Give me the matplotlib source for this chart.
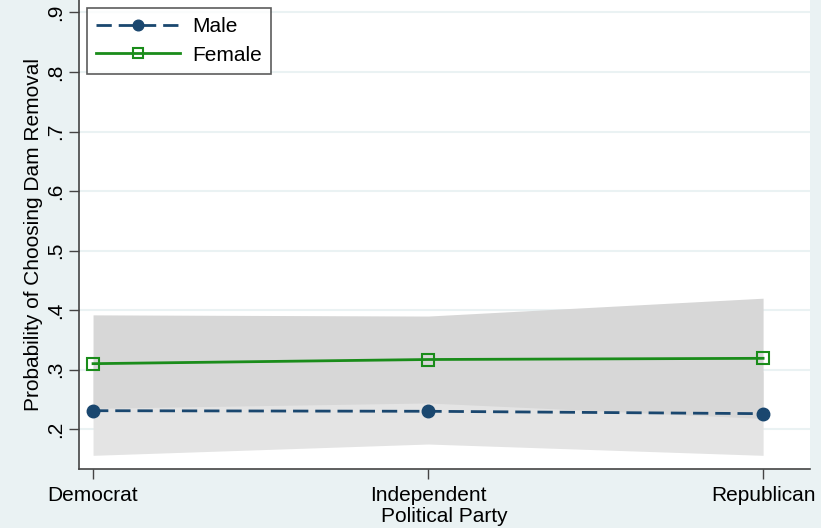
import matplotlib.pyplot as plt
import numpy as np

plt.rcParams['font.family'] = ['Liberation Sans', 'DejaVu Sans']

# Predicted probabilities by party, with confidence bands
parties = ['Democrat', 'Independent', 'Republican']
male = [0.231, 0.230, 0.226]
male_lo = [0.156, 0.175, 0.156]
male_hi = [0.306, 0.285, 0.296]
female = [0.310, 0.317, 0.319]
female_lo = [0.235, 0.244, 0.218]
female_hi = [0.392, 0.390, 0.420]
yticks = [0.2, 0.3, 0.4, 0.5, 0.6, 0.7, 0.8, 0.9]
ytick_labels = ['.2', '.3', '.4', '.5', '.6', '.7', '.8', '.9']

bg = '#eaf2f3'
navy = '#1a476f'
green = '#1a8c1a'

fig = plt.figure(figsize=(8.21, 5.28), dpi=100, facecolor=bg)
ax = fig.add_axes([0.0962, 0.1117, 0.8904, 0.8883])
ax.set_facecolor('white')

x = np.arange(len(parties))

# confidence bands (male underneath, female on top)
ax.fill_between(x, male_lo, male_hi, color='#e4e4e4', lw=0, zorder=1)
ax.fill_between(x, female_lo, female_hi, color='#d7d7d7', lw=0, zorder=2)

ax.plot(x, male, color=navy, ls=(0, (5.5, 2.5)), lw=2, marker='o', ms=9,
        label='Male', zorder=4)
ax.plot(x, female, color=green, lw=2, marker='s', ms=9, mfc='none',
        mew=1.5, label='Female', zorder=4)

ax.set_xlim(-0.042, 2.14)
ax.set_ylim(0.133, 0.921)
ax.set_xticks(x)
ax.set_xticklabels(parties, fontsize=15)
ax.set_yticks(yticks)
ax.set_yticklabels(ytick_labels, fontsize=15, rotation=90, va='center')
ax.tick_params(axis='both', length=7, width=1, color='#444444')
ax.tick_params(axis='x', pad=5)
ax.tick_params(axis='y', pad=3)

ax.grid(axis='y', color=bg, lw=1.5, zorder=0)
ax.set_axisbelow(True)

for side in ['top', 'right']:
    ax.spines[side].set_visible(False)
for side in ['left', 'bottom']:
    ax.spines[side].set_color('#444444')
    ax.spines[side].set_linewidth(1.2)

ax.set_xlabel('Political Party', fontsize=15, labelpad=1.5)
ax.set_ylabel('Probability of Choosing Dam Removal', fontsize=15)
ax.yaxis.set_label_coords(-0.049, 0.5)

leg = ax.legend(loc='upper left', bbox_to_anchor=(0.011, 0.983), fontsize=15,
                frameon=True, fancybox=False, edgecolor='#333333',
                handlelength=4.0, handletextpad=0.6, borderpad=0.45,
                labelspacing=0.45, borderaxespad=0, markerscale=0.85)
leg.get_frame().set_linewidth(1.2)

plt.savefig('out.png', dpi=100, facecolor=bg)
